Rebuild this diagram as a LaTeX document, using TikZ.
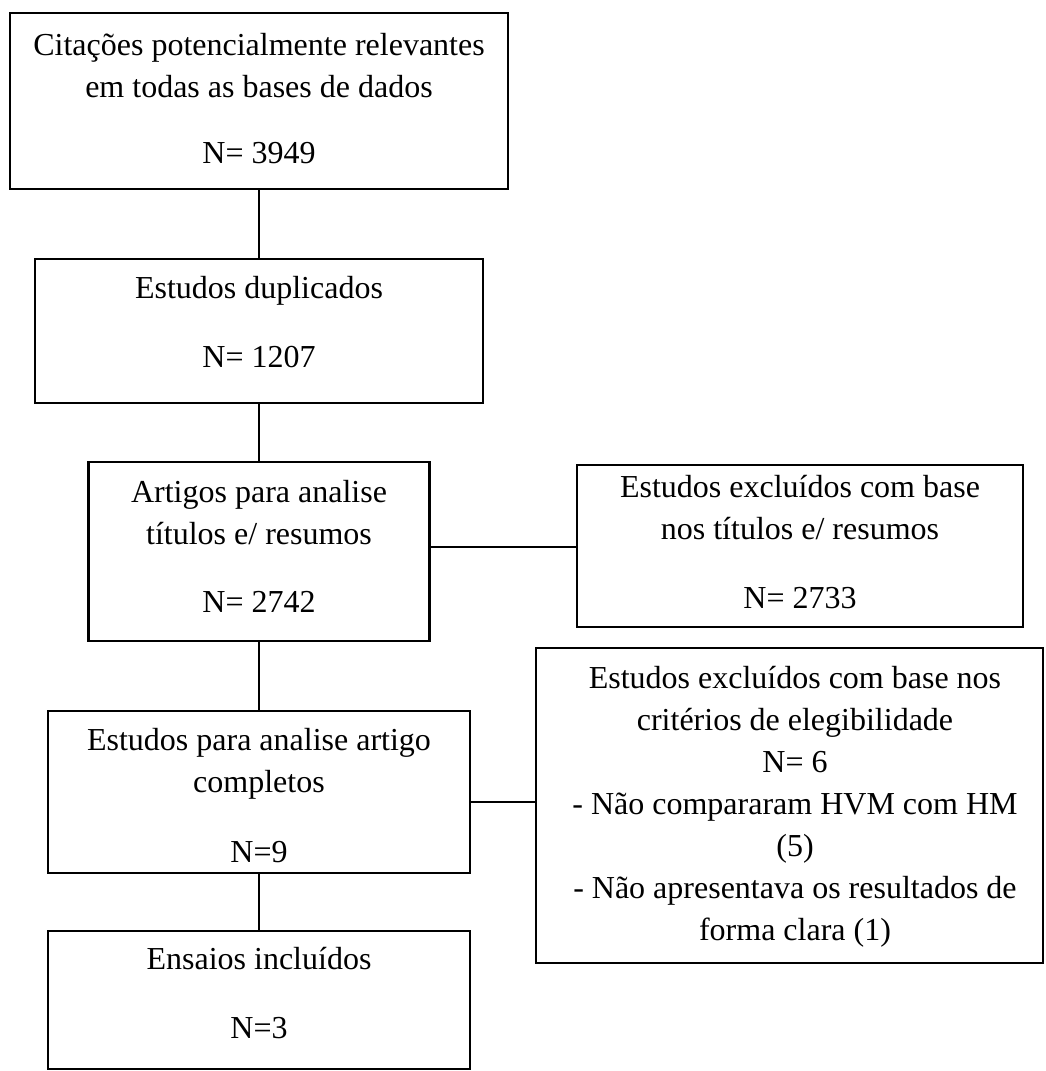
\documentclass[tikz,border=0pt]{standalone}
\usepackage{fontspec}
\setmainfont{Liberation Serif}
\newcommand{\fstrut}{\rule{0pt}{26pt}}
\begin{document}
\begin{tikzpicture}[x=1pt,y=-1pt,
  boxst/.style={draw=black, line width=2.2pt, rectangle, inner sep=0pt},
  txtst/.style={font=\fontsize{32}{42}\selectfont, align=center, inner sep=0pt, anchor=north, text=black},
  conn/.style={draw=black, line width=2.2pt}]
\useasboundingbox (0,0) rectangle (1046,1071);
% boxes
\node[boxst, minimum width=498pt, minimum height=176pt] (b1) at (259,101) {};
\node[boxst, minimum width=448pt, minimum height=144pt] (b2) at (259,331) {};
\node[boxst, minimum width=341pt, minimum height=179pt] (b3) at (259,551.5) {};
\node[boxst, minimum width=422pt, minimum height=162pt] (b4) at (259,792) {};
\node[boxst, minimum width=422pt, minimum height=138pt] (b5) at (259,1000) {};
\node[boxst, minimum width=446pt, minimum height=162pt] (r1) at (800,546) {};
\node[boxst, minimum width=507pt, minimum height=315pt] (r2) at (789.5,805.5) {};
% texts
\node[txtst] (t1) at (259,29) {\fstrut Citações potencialmente relevantes\\ em todas as bases de dados\\[24pt] N= 3949};
\node[txtst] (t2) at (259,272) {\fstrut Estudos duplicados\\[27pt] N= 1207};
\node[txtst] (t3) at (259,476) {\fstrut Artigos para analise\\ títulos e/ resumos\\[26pt] N= 2742};
\node[txtst] (t4) at (259,724) {\fstrut Estudos para analise artigo\\ completos\\[28pt] N=9};
\node[txtst] (t5) at (259,943) {\fstrut Ensaios incluídos\\[27pt] N=3};
\node[txtst] (tr1) at (800,471) {\fstrut Estudos excluídos com base\\ nos títulos e/ resumos\\[27pt] N= 2733};
\node[txtst] (tr2) at (795,662) {\fstrut Estudos excluídos com base nos\\ critérios de elegibilidade\\ N= 6\\ - Não compararam HVM com HM\\ (5)\\ - Não apresentava os resultados de\\ forma clara (1)};
% connectors
\draw[conn] (b1.south) -- (b2.north);
\draw[conn] (b2.south) -- (b3.north);
\draw[conn] (b3.south) -- (b4.north);
\draw[conn] (b4.south) -- (b5.north);
\draw[conn] ([yshift=4.5pt]b3.east) -- ([yshift=4.5pt]b3.east -| r1.west);
\draw[conn] ([yshift=-10pt]b4.east) -- ([yshift=-10pt]b4.east -| r2.west);
\end{tikzpicture}
\end{document}
